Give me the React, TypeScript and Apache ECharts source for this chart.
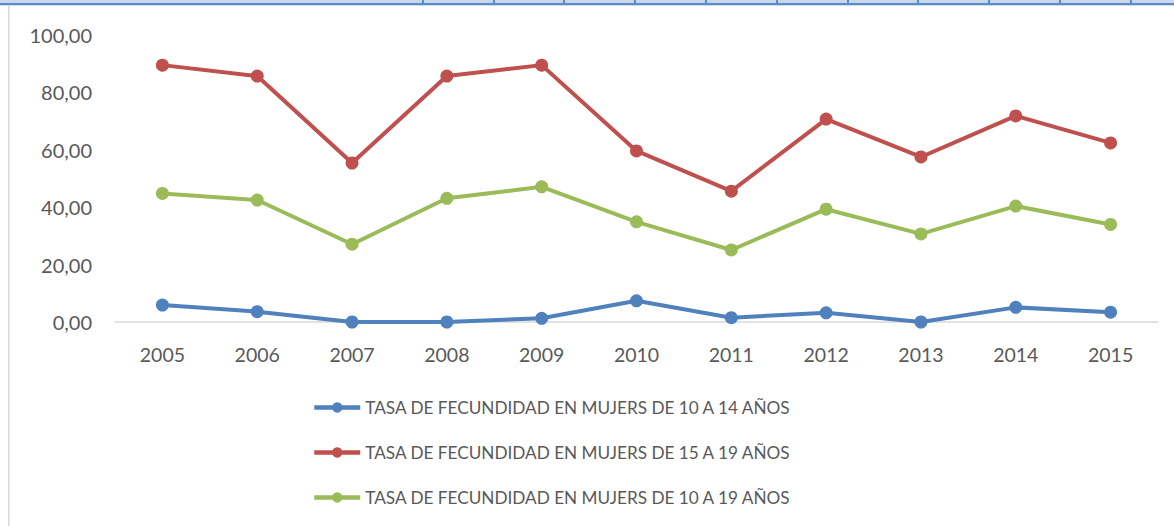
import React, { useEffect, useRef } from "react";
import * as echarts from "echarts";

const years = ["2005", "2006", "2007", "2008", "2009", "2010", "2011", "2012", "2013", "2014", "2015"];
const tasa10a14 = [5.9, 3.6, 0.0, 0.0, 1.3, 7.4, 1.5, 3.2, 0.0, 5.1, 3.4];
const tasa15a19 = [89.5, 85.7, 55.4, 85.7, 89.5, 59.6, 45.6, 70.7, 57.5, 71.8, 62.4];
const tasa10a19 = [44.8, 42.5, 27.1, 43.1, 47.1, 34.9, 25.1, 39.3, 30.7, 40.4, 34.0];
const seriesNames = [
  "TASA DE FECUNDIDAD EN MUJERS DE 10 A 14 AÑOS",
  "TASA DE FECUNDIDAD EN MUJERS DE 15 A 19 AÑOS",
  "TASA DE FECUNDIDAD EN MUJERS DE 10 A 19 AÑOS",
];
const colors = ["#4f81bd", "#c0504d", "#9bbb59"];
const headerTicks = [423, 494, 564, 635, 706, 777, 848, 918, 989, 1060, 1131];

const FONT = "Lato, 'Noto Sans', sans-serif";

export default function App() {
  const ref = useRef<HTMLDivElement>(null);
  useEffect(() => {
    if (!ref.current) return;
    const chart = echarts.init(ref.current, undefined, { renderer: "svg" });
    const data = [tasa10a14, tasa15a19, tasa10a19];
    const graphic: any[] = [
      { type: "rect", shape: { x: 0, y: 0, width: 1174, height: 4 }, style: { fill: "#c6d7ee" }, silent: true },
      { type: "rect", shape: { x: 0, y: 3, width: 1174, height: 2 }, style: { fill: "#5b8bc9" }, silent: true },
      { type: "rect", shape: { x: 0, y: 5, width: 1174, height: 1 }, style: { fill: "#d6dbe2" }, silent: true },
      { type: "rect", shape: { x: 8, y: 5, width: 1.5, height: 521 }, style: { fill: "#d9d9d9" }, silent: true },
      ...headerTicks.map((x) => ({
        type: "rect",
        shape: { x: x - 1, y: 0, width: 2, height: 5 },
        style: { fill: "#5b8bc9" },
        silent: true,
      })),
    ];
    chart.setOption({
      animation: false,
      backgroundColor: "#ffffff",
      color: colors,
      textStyle: { fontFamily: FONT },
      grid: { left: 115, right: 16, top: 35, bottom: 204, containLabel: false },
      xAxis: {
        type: "category",
        data: years,
        boundaryGap: true,
        axisLine: { lineStyle: { color: "#d9d9d9", width: 1.5 } },
        axisTick: { show: false },
        axisLabel: { color: "#595959", fontSize: 19.5, margin: 22, fontFamily: FONT },
      },
      yAxis: {
        type: "value",
        min: 0,
        max: 100,
        interval: 20,
        axisLine: { show: false },
        axisTick: { show: false },
        splitLine: { show: false },
        axisLabel: {
          color: "#595959",
          fontSize: 20,
          margin: 23,
          fontFamily: FONT,
          formatter: (v: number) => v.toFixed(2).replace(".", ","),
        },
      },
      legend: {
        orient: "vertical",
        left: 312,
        top: 399,
        padding: 0,
        itemWidth: 46,
        itemHeight: 13,
        itemGap: 28,
        lineStyle: { width: 4.5 },
        textStyle: { color: "#595959", fontSize: 17.2, fontFamily: FONT },
        data: seriesNames,
      },
      series: seriesNames.map((name, i) => ({
        name,
        type: "line",
        data: data[i],
        symbol: "circle",
        symbolSize: 13,
        lineStyle: { width: 4, color: colors[i] },
        itemStyle: { color: colors[i] },
      })),
      graphic,
    });
    return () => chart.dispose();
  }, []);
  return (
    <div
      ref={ref}
      style={{ position: "fixed", left: 0, top: 0, width: 1174, height: 526 }}
    />
  );
}
